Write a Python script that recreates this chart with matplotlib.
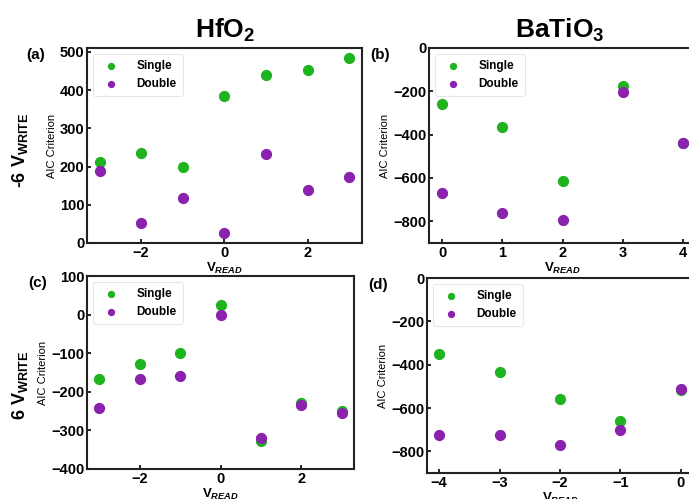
import numpy as np
import matplotlib
matplotlib.use('Agg')
import matplotlib.pyplot as plt

plt.rcParams['font.family'] = ['Liberation Sans', 'DejaVu Sans']
plt.rcParams['mathtext.fontset'] = 'custom'
plt.rcParams['mathtext.rm'] = 'Liberation Sans'
plt.rcParams['mathtext.it'] = 'Liberation Sans:italic:bold'
plt.rcParams['mathtext.bf'] = 'Liberation Sans:bold'

# (a) HfO2, -6 V write
a_x = [-3, -2, -1, 0, 1, 2, 3]
a_single = [212, 235, 200, 385, 440, 452, 485]
a_double = [188, 53, 117, 25, 232, 138, 172]

# (b) BaTiO3, -6 V write
b_x = [0, 1, 2, 3, 4]
b_single = [-260, -365, -615, -175, -438]
b_double = [-668, -760, -795, -205, -438]

# (c) HfO2, 6 V write
c_x = [-3, -2, -1, 0, 1, 2, 3]
c_single = [-167, -127, -100, 25, -327, -230, -250]
c_double = [-242, -167, -159, -2, -320, -233, -254]

# (d) BaTiO3, 6 V write
d_x = [-4, -3, -2, -1, 0]
d_single = [-350, -435, -558, -662, -515]
d_double = [-725, -725, -772, -700, -510]

green = '#1fb31f'
purple = '#8a22ae'

W, H = 689, 499
fig = plt.figure(figsize=(W / 100, H / 100), dpi=100)

def add_ax(l, t, r, b):
    return fig.add_axes([l / W, 1 - b / H, (r - l) / W, (b - t) / H])

axa = add_ax(87, 48, 362, 243)
axb = add_ax(429, 48, 695, 243)
axc = add_ax(87, 276, 354, 469)
axd = add_ax(427, 278, 693, 473)

panels = [
    (axa, a_x, a_single, a_double, (-3.3, 3.3), (0, 510), [-2, 0, 2], [0, 100, 200, 300, 400, 500], '(a)'),
    (axb, b_x, b_single, b_double, (-0.22, 4.2), (-900, 0), [0, 1, 2, 3, 4], [-800, -600, -400, -200, 0], '(b)'),
    (axc, c_x, c_single, c_double, (-3.3, 3.3), (-400, 100), [-2, 0, 2], [-400, -300, -200, -100, 0, 100], '(c)'),
    (axd, d_x, d_single, d_double, (-4.2, 0.2), (-900, 0), [-4, -3, -2, -1, 0], [-800, -600, -400, -200, 0], '(d)'),
]

for ax, x, s, d, xl, yl, xt, yt, tag in panels:
    ax.scatter(x, s, s=50, color=green, label='Single', zorder=3, clip_on=False)
    ax.scatter(x, d, s=50, color=purple, label='Double', zorder=3, clip_on=False)
    ax.set_xlim(xl)
    ax.set_ylim(yl)
    ax.set_xticks(xt)
    ax.set_yticks(yt)
    ax.set_xticklabels([str(v).replace('-', '\u2212') for v in xt], fontweight='bold', fontsize=10.5)
    ax.set_yticklabels([str(v).replace('-', '\u2212') for v in yt], fontweight='bold', fontsize=10.5)
    ax.tick_params(direction='in', length=3, width=1.2, pad=2)
    for sp in ax.spines.values():
        sp.set_linewidth(1.5)
        sp.set_color('#222222')
    ax.set_ylabel('AIC Criterion', fontsize=8, labelpad=2)
    ax.set_xlabel(r'$\mathbf{V}_{\mathit{READ}}$', fontsize=9.5, labelpad=1)
    leg = ax.legend(loc='upper left', fontsize=8.5, markerscale=0.6, frameon=True,
                    handletextpad=1.2, borderpad=0.5, labelspacing=0.5)
    for t in leg.get_texts():
        t.set_fontweight('bold')
    leg.get_frame().set_edgecolor('#e2e2e2')
    leg.get_frame().set_linewidth(0.8)
    ax.text(-0.22, 1.0, tag, transform=ax.transAxes, fontsize=11, fontweight='bold',
            ha='left', va='top')

fig.text(225 / W, 1 - 30 / H, r'HfO$_\mathbf{2}$', fontsize=19, fontweight='bold', ha='center', va='center')
fig.text(560 / W, 1 - 30 / H, r'BaTiO$_\mathbf{3}$', fontsize=19, fontweight='bold', ha='center', va='center')
fig.text(20 / W, 1 - 150 / H, r'-6 V$_{\mathbf{WRITE}}$', fontsize=13, fontweight='bold',
         rotation=90, ha='center', va='center')
fig.text(20 / W, 1 - 385 / H, r'6 V$_{\mathbf{WRITE}}$', fontsize=13, fontweight='bold',
         rotation=90, ha='center', va='center')

fig.savefig('out.png', dpi=100)
